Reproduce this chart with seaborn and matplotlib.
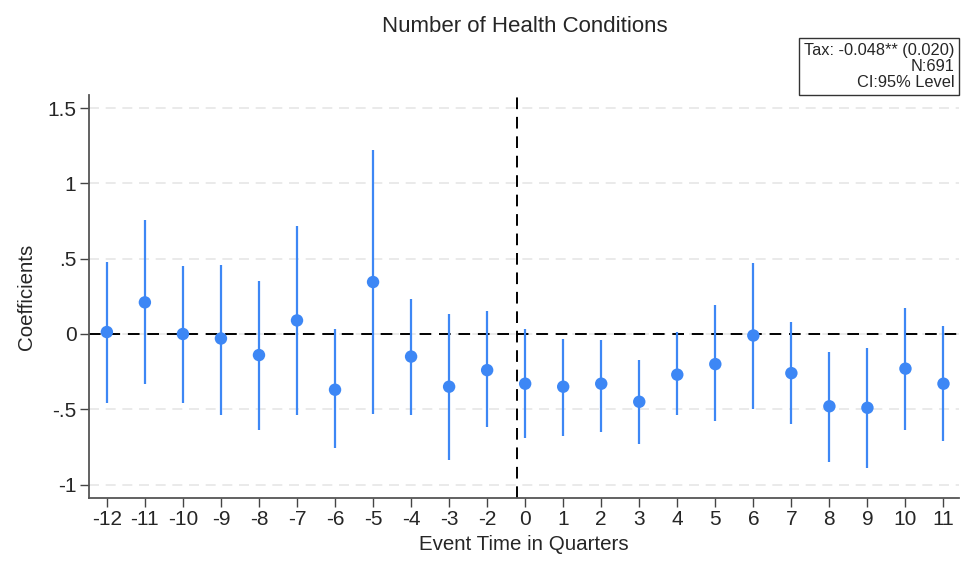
import numpy as np
import pandas as pd
import matplotlib
matplotlib.use("Agg")
import matplotlib.pyplot as plt
import seaborn as sns

# Event-study estimates: event time (quarters), point estimate, 95% CI bounds
event_time = [-12, -11, -10, -9, -8, -7, -6, -5, -4, -3, -2,
              0, 1, 2, 3, 4, 5, 6, 7, 8, 9, 10, 11]
coef = [0.013, 0.21, 0.0, -0.03, -0.14, 0.09, -0.37, 0.345, -0.15, -0.35, -0.24,
        -0.33, -0.35, -0.33, -0.45, -0.27, -0.20, -0.01, -0.26, -0.48, -0.49, -0.23, -0.33]
ci_low = [-0.46, -0.33, -0.46, -0.54, -0.64, -0.54, -0.76, -0.53, -0.54, -0.84, -0.62,
          -0.69, -0.68, -0.65, -0.73, -0.54, -0.58, -0.50, -0.60, -0.85, -0.89, -0.64, -0.71]
ci_high = [0.48, 0.76, 0.45, 0.46, 0.35, 0.72, 0.03, 1.22, 0.23, 0.13, 0.15,
           0.03, -0.03, -0.04, -0.17, 0.01, 0.19, 0.47, 0.08, -0.12, -0.09, 0.17, 0.05]
y_ticks = [-1, -0.5, 0, 0.5, 1, 1.5]
y_tick_labels = ["-1", "-.5", "0", ".5", "1", "1.5"]
stats_lines = ["Tax: -0.048** (0.020)", "N:691", "CI:95% Level"]

df = pd.DataFrame({"event_time": event_time, "coef": coef,
                   "lo": ci_low, "hi": ci_high})
df["pos"] = np.arange(len(df))

sns.set_style("white")
plt.rcParams["font.family"] = ["Liberation Sans", "DejaVu Sans"]

blue = "#3d87f5"
fig = plt.figure(figsize=(9.61, 5.61), dpi=100)
ax = fig.add_axes([0.0926, 0.1123, 0.905, 0.7184])

# Light dashed horizontal grid
for yt in y_ticks:
    ax.axhline(yt, color="#e6e6e6", lw=1.2, ls=(0, (6, 4)), zorder=0)

# Reference lines at zero and at the treatment date
ax.axhline(0, color="black", lw=1.4, ls=(0, (6, 4)), zorder=1)
ax.axvline(10.79, color="black", lw=1.4, ls=(0, (6, 4)), zorder=1)

# Confidence intervals
ax.vlines(df["pos"], df["lo"], df["hi"], color=blue, lw=1.6, zorder=2)
# Point estimates
sns.scatterplot(data=df, x="pos", y="coef", ax=ax, color=blue, s=80,
                edgecolor="none", zorder=3, legend=False)

ax.set_xlim(-0.47, 22.4)
ax.set_ylim(-1.089, 1.587)
ax.set_xticks(df["pos"])
ax.set_xticklabels([str(v) for v in event_time])
ax.set_yticks(y_ticks)
ax.set_yticklabels(y_tick_labels)
ax.tick_params(axis="both", labelsize=15, length=6.5, width=1, color="#444444",
               direction="out", bottom=True, left=True, pad=2.5)

for side in ["top", "right"]:
    ax.spines[side].set_visible(False)
for side in ["left", "bottom"]:
    ax.spines[side].set_color("#555555")
    ax.spines[side].set_linewidth(1.3)

ax.set_xlabel("Event Time in Quarters", fontsize=14.8, labelpad=4)
ax.set_ylabel("Coefficients", fontsize=14.8, labelpad=8)
fig.text(0.546, 0.952, "Number of Health Conditions", ha="center", va="center",
         fontsize=16)

fig.text(0.993, 0.882, "\n".join(stats_lines), ha="right", va="center",
         fontsize=11.8, linespacing=1.08,
         bbox=dict(boxstyle="square,pad=0.3", facecolor="white",
                   edgecolor="#333333", linewidth=1.0))

fig.savefig("out.png", dpi=100, facecolor="white")
